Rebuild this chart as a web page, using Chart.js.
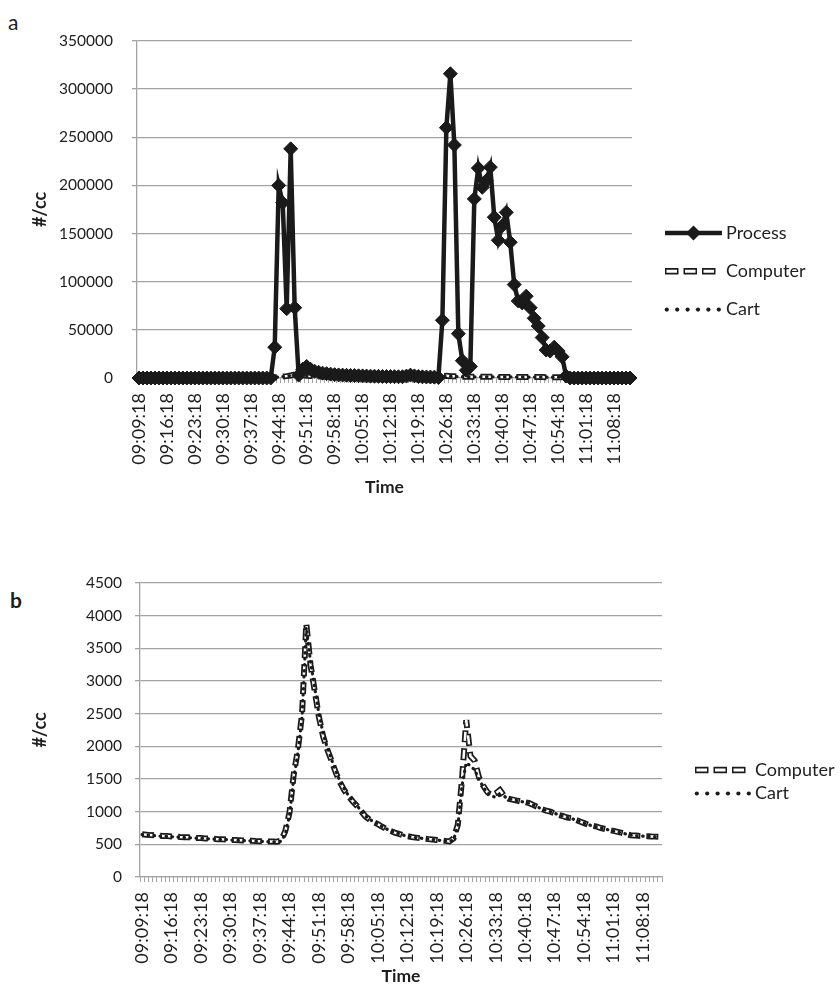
<!DOCTYPE html>
<html>
<head>
<meta charset="utf-8">
<script src="https://cdn.jsdelivr.net/npm/chart.js@4.4.0/dist/chart.umd.min.js"></script>
<style>
  html, body { margin: 0; padding: 0; background: #fff; }
  body { width: 840px; height: 995px; position: relative; overflow: hidden; font-family: Lato, "Open Sans", sans-serif; color: #1e1e1e; }
  .panel { position: absolute; left: 0; width: 840px; }
  #wrapA { top: 0; height: 545px; }
  #wrapB { top: 550px; height: 445px; }
  .tag { position: absolute; font-size: 21px; line-height: 21px; }
</style>
</head>
<body>
<div class="tag" style="left:8px;top:11px">a</div>
<div class="tag" style="left:10px;top:589px;font-weight:bold">b</div>
<div class="panel" id="wrapA"><canvas id="chartA"></canvas></div>
<div class="panel" id="wrapB"><canvas id="chartB"></canvas></div>
<script>
// one reading per minute, 09:09:18 .. 11:12:18
const firstMinute = 9 * 60 + 9;
const pointCount = 124;
const times = [];
for (let i = 0; i < pointCount; i++) {
    const m = firstMinute + i;
    times.push(String(Math.floor(m / 60)).padStart(2, '0') + ':' + String(m % 60).padStart(2, '0') + ':18');
}
const labelEvery = 7;

const yMaxA = 350000, yStepA = 50000;
const yMaxB = 4500, yStepB = 500;

const processA = [
    0, 0, 0, 0, 0, 0, 0, 0, 0, 0,
    0, 0, 0, 0, 0, 0, 0, 0, 0, 0,
    0, 0, 0, 0, 0, 0, 0, 0, 0, 0,
    0, 0, 0, 0,
    32000, 200000, 182000, 72000, 238000, 73000,
    3000, 9000, 12000, 9000, 7000, 6000, 5000, 4500, 4000, 3500,
    3200, 3000, 2800, 2600, 2500, 2300, 2200, 2000, 1900, 1800,
    1700, 1600, 1500, 1500, 1400, 1300, 1300, 2000, 3000, 2200,
    1500, 1200, 1100, 1000, 900, 500, 60000, 260000, 316000, 242000,
    46000, 18000, 8000, 12000, 186000, 218000, 198000, 205000, 219000, 167000,
    143000, 158000, 172000, 141000, 97000, 80000, 78000, 85000, 73000, 62000,
    54000, 42000, 29000, 28000, 32000, 28000, 22000, 2000,
    0, 0, 0, 0, 0, 0, 0, 0, 0, 0, 0, 0, 0, 0, 0, 0
];

const computer = [
    655, 648, 641, 638, 633, 629, 626, 620, 618, 612,
    609, 607, 601, 598, 596, 590, 588, 585, 579, 577,
    574, 569, 566, 564, 560, 557, 555, 551, 549, 547,
    545, 543, 541,
    555, 700, 980, 1560, 1950, 2500, 3880,
    3250, 2850, 2450, 2150, 1950, 1780, 1600, 1450, 1330, 1240,
    1160, 1090, 1010, 930, 880, 840, 810, 770, 735, 705,
    680, 660, 640, 625, 612, 603, 595, 588, 580, 573,
    567, 560, 553, 545, 590, 800, 1500, 2400, 1850, 1780,
    1530, 1400, 1300, 1250, 1280, 1330, 1240, 1200, 1185, 1170,
    1155, 1145, 1130, 1100, 1070, 1040, 1015, 1000, 975, 950,
    930, 910, 900, 875, 850, 825, 800, 785, 770, 750,
    735, 720, 705, 690, 675, 660, 640, 635, 630, 628,
    625, 620, 618, 616
];

const cart = [
    648, 643, 636, 633, 628, 624, 621, 616, 613, 608,
    605, 602, 597, 594, 592, 587, 584, 581, 576, 574,
    571, 566, 563, 561, 557, 554, 552, 548, 546, 544,
    542, 540, 538,
    545, 660, 940, 1500, 1900, 2450, 3820,
    3300, 2900, 2500, 2200, 1980, 1800, 1620, 1470, 1350, 1250,
    1170, 1095, 1015, 935, 885, 845, 812, 772, 737, 707,
    682, 661, 641, 626, 613, 604, 596, 588, 580, 573,
    566, 559, 552, 544, 570, 780, 1400, 1750, 1700, 1640,
    1500, 1380, 1290, 1240, 1220, 1250, 1235, 1200, 1185, 1170,
    1155, 1145, 1130, 1100, 1070, 1040, 1015, 1000, 975, 950,
    930, 910, 895, 872, 848, 824, 800, 783, 768, 749,
    733, 718, 703, 688, 673, 658, 640, 634, 629, 626,
    623, 619, 616, 614
];

const ink = '#1a1a1a';
const textColor = '#1e1e1e';
const gridColor = '#a3a3a3';
const fontFamily = 'Lato, "Open Sans", sans-serif';

function processSet() {
    return {
        label: 'Process', data: processA, borderColor: ink, borderWidth: 4.5,
        pointStyle: 'rectRot', pointRadius: 7, pointBackgroundColor: ink,
        pointBorderColor: ink, pointBorderWidth: 1, clip: false, order: 0
    };
}
function computerSets() {
    return [
        { label: 'Computer', data: computer, borderColor: ink, borderWidth: 6,
          borderDash: [12, 6], pointRadius: 0, clip: false, order: 3 },
        { label: 'Computer fill', data: computer, borderColor: '#fff', borderWidth: 2.5,
          borderDash: [9, 9], borderDashOffset: -1.5, pointRadius: 0, clip: false, order: 2 }
    ];
}
function cartSet() {
    return {
        label: 'Cart', data: cart, borderColor: ink, borderWidth: 3.2,
        borderDash: [0.5, 5.5], borderCapStyle: 'round', pointRadius: 0, clip: false, order: 1
    };
}

// legend symbols
function drawIcon(ctx, name, x, y) {
    ctx.save();
    if (name === 'Process') {
        ctx.strokeStyle = ink; ctx.lineWidth = 4.5;
        ctx.beginPath(); ctx.moveTo(x, y); ctx.lineTo(x + 57, y); ctx.stroke();
        const cx = x + 28.5, r = 7.5;
        ctx.fillStyle = ink;
        ctx.beginPath();
        ctx.moveTo(cx, y - r); ctx.lineTo(cx + r, y); ctx.lineTo(cx, y + r); ctx.lineTo(cx - r, y);
        ctx.closePath(); ctx.fill();
    } else if (name === 'Computer') {
        ctx.strokeStyle = ink; ctx.lineWidth = 6.5; ctx.setLineDash([13.5, 5]);
        ctx.beginPath(); ctx.moveTo(x, y); ctx.lineTo(x + 53, y); ctx.stroke();
        ctx.strokeStyle = '#fff'; ctx.lineWidth = 3; ctx.setLineDash([10.5, 8]); ctx.lineDashOffset = -1.5;
        ctx.beginPath(); ctx.moveTo(x, y); ctx.lineTo(x + 53, y); ctx.stroke();
    } else {
        ctx.fillStyle = ink;
        for (let k = 0; k < 6; k++) {
            ctx.beginPath(); ctx.arc(x + 1.8 + k * 10.4, y, 2.1, 0, Math.PI * 2); ctx.fill();
        }
    }
    ctx.restore();
}

const sideLegend = {
    id: 'sideLegend',
    afterDraw(chart, args, opts) {
        const ctx = chart.ctx;
        const x0 = chart.chartArea.right + opts.iconGap;
        ctx.save();
        ctx.font = '18px ' + fontFamily;
        ctx.fillStyle = textColor;
        ctx.textBaseline = 'middle';
        opts.items.forEach((name, k) => {
            const y = opts.top + k * opts.step;
            drawIcon(ctx, name, x0, y);
            ctx.fillText(name, chart.chartArea.right + opts.textGap, y);
        });
        ctx.restore();
    }
};

function buildOptions(cfg) {
    return {
        responsive: true,
        maintainAspectRatio: false,
        animation: false,
        events: [],
        layout: { padding: { top: cfg.top, right: cfg.right, left: 0, bottom: 0 } },
        plugins: {
            legend: { display: false },
            tooltip: { enabled: false },
            sideLegend: cfg.legend
        },
        scales: {
            x: {
                type: 'category',
                offset: true,
                afterFit: (scale) => { scale.height = cfg.xHeight; },
                grid: { offset: true, drawOnChartArea: false, drawTicks: true, tickLength: 5, color: gridColor, lineWidth: 1 },
                border: { display: true, color: gridColor, width: 1.3 },
                ticks: {
                    autoSkip: false, minRotation: 90, maxRotation: 90, padding: 10,
                    color: textColor, font: { family: fontFamily, size: 18 },
                    callback: function (val, idx) { return idx % labelEvery === 0 ? this.getLabelForValue(val) : ''; }
                },
                title: { display: true, text: 'Time', color: textColor,
                         font: { family: fontFamily, size: 17.5, weight: 'bold' }, padding: { bottom: cfg.timePad, top: 0 } }
            },
            y: {
                min: 0, max: cfg.yMax,
                afterFit: (scale) => { scale.width = cfg.yWidth; },
                grid: { color: gridColor, lineWidth: 1.3, tickLength: 5 },
                border: { display: true, color: gridColor, width: 1.3 },
                ticks: { stepSize: cfg.yStep, padding: cfg.yPad, color: textColor,
                         font: { family: fontFamily, size: 15.5 }, callback: (v) => String(v) },
                title: { display: true, text: '#/cc', color: textColor,
                         font: { family: fontFamily, size: 18, weight: 'bold' }, padding: { top: 29, bottom: 0 } }
            }
        }
    };
}

new Chart(document.getElementById('chartA'), {
    type: 'line',
    data: { labels: times, datasets: [processSet(), ...computerSets(), cartSet()] },
    options: buildOptions({
        top: 41, right: 208, xHeight: 167, yWidth: 137, yPad: 19, timePad: 47,
        yMax: yMaxA, yStep: yStepA,
        legend: { items: ['Process', 'Computer', 'Cart'], top: 233, step: 38.3, iconGap: 33, textGap: 94 }
    }),
    plugins: [sideLegend]
});

new Chart(document.getElementById('chartB'), {
    type: 'line',
    data: { labels: times, datasets: [...computerSets(), cartSet()] },
    options: buildOptions({
        top: 33, right: 178, xHeight: 118, yWidth: 140, yPad: 13, timePad: 8,
        yMax: yMaxB, yStep: yStepB,
        legend: { items: ['Computer', 'Cart'], top: 220, step: 23.5, iconGap: 33, textGap: 93 }
    }),
    plugins: [sideLegend]
});
</script>
</body>
</html>
